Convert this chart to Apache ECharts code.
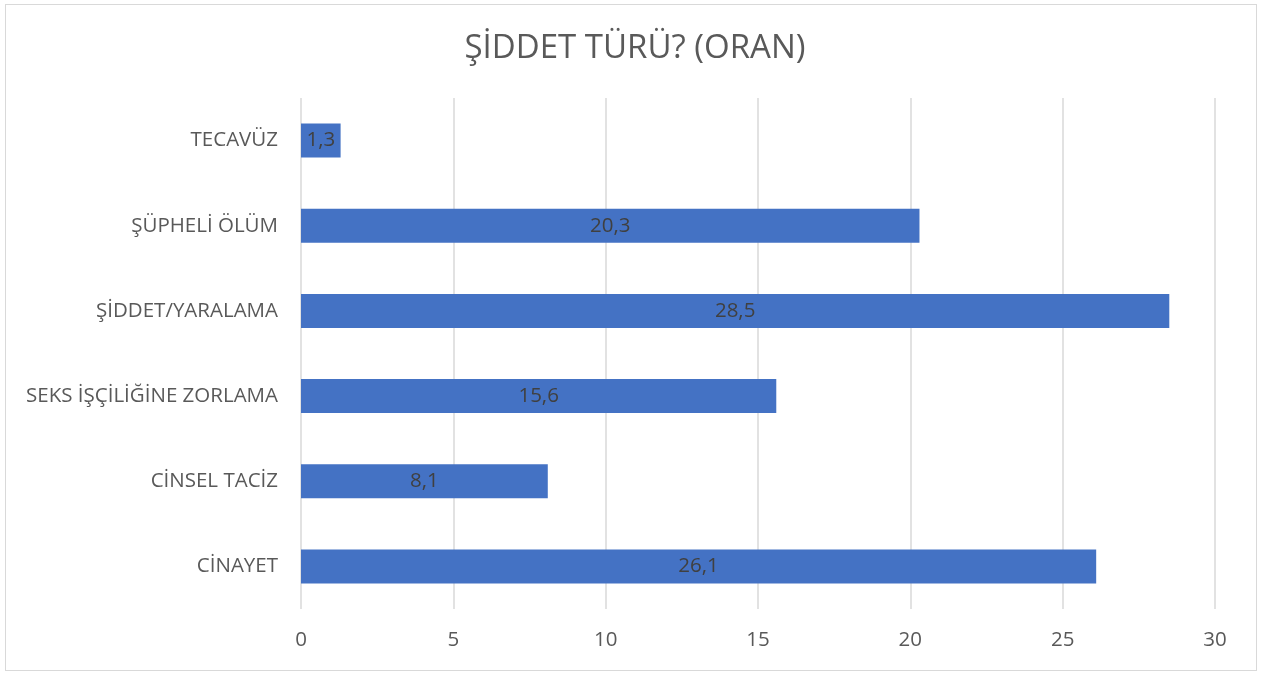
<!DOCTYPE html>
<html>
<head>
<meta charset="utf-8">
<script src="https://cdn.jsdelivr.net/npm/echarts@6/dist/echarts.min.js"></script>
<style>
  html, body { margin: 0; padding: 0; background: #fff; }
  #frame { position: absolute; left: 5px; top: 4px; width: 1250px; height: 665px; border: 1px solid #d9d9d9; }
  #chart { width: 1270px; height: 677px; }
</style>
</head>
<body>
<div id="frame"></div>
<div id="chart"></div>
<script>
const chartTitle = 'ŞİDDET TÜRÜ? (ORAN)';
const categories = ['CİNAYET', 'CİNSEL TACİZ', 'SEKS İŞÇİLİĞİNE ZORLAMA', 'ŞİDDET/YARALAMA', 'ŞÜPHELİ ÖLÜM', 'TECAVÜZ'];
const values = [26.1, 8.1, 15.6, 28.5, 20.3, 1.3];

const font = '"Open Sans", "Noto Sans", sans-serif';
const myChart = echarts.init(document.getElementById('chart'));

const option = {
  animation: false,
  title: {
    text: chartTitle,
    left: 'center',
    top: 27,
    textStyle: { color: '#595959', fontSize: 33, fontWeight: 'normal', fontFamily: font }
  },
  grid: { left: 301, right: 55, top: 98, bottom: 68 },
  xAxis: {
    type: 'value',
    min: 0,
    max: 30,
    interval: 5,
    axisLine: { show: false },
    axisTick: { show: false },
    splitLine: { lineStyle: { color: '#d9d9d9', width: 1.5 } },
    axisLabel: { color: '#595959', fontSize: 20.5, fontFamily: font, margin: 21 }
  },
  yAxis: {
    type: 'category',
    data: categories,
    axisLine: { show: false },
    axisTick: { show: false },
    axisLabel: { color: '#595959', fontSize: 20.5, fontFamily: font, margin: 23 }
  },
  series: [
    {
      type: 'bar',
      data: values,
      barWidth: 34,
      itemStyle: { color: '#4472C4' },
      label: {
        show: true,
        position: 'inside',
        color: '#404040',
        fontSize: 20.5,
        fontFamily: font,
        formatter: function (p) { return String(p.value).replace('.', ','); }
      }
    }
  ]
};

myChart.setOption(option);
</script>
</body>
</html>
